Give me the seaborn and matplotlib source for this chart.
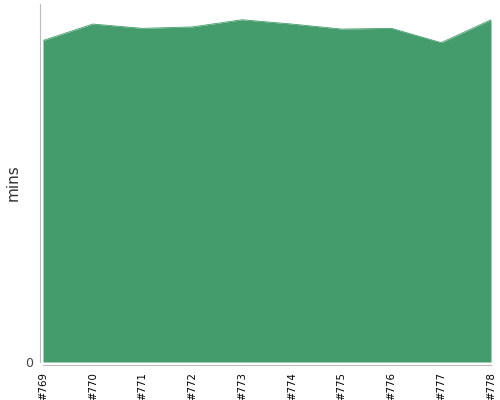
import pandas as pd
import matplotlib
matplotlib.use('Agg')
import matplotlib.pyplot as plt
import seaborn as sns

# Build numbers and duration (mins)
builds = ['#769', '#770', '#771', '#772', '#773', '#774', '#775', '#776', '#777', '#778']
mins = [44.9, 47.2, 46.6, 46.8, 47.8, 47.2, 46.5, 46.6, 44.6, 47.8]

df = pd.DataFrame({'build': builds, 'mins': mins})
df['pos'] = range(len(df))

sns.set_style('white')
fig = plt.figure(figsize=(5, 4), dpi=100)
ax = fig.add_axes([0.086, 0.095, 0.896, 0.895])

ax.fill_between(df['pos'], 0, df['mins'], color='#449c6c', linewidth=0)
sns.lineplot(data=df, x='pos', y='mins', ax=ax, color='#449c6c', linewidth=0.6)

# offset spines first: set_position resets tick styling
sns.despine(ax=ax, offset=2.5)
for side in ['left', 'bottom']:
    ax.spines[side].set_color('#bbbbbb')
    ax.spines[side].set_linewidth(0.8)

ax.set_xlim(0, len(df) - 1)
ax.set_ylim(0, 50)
ax.set_xticks(df['pos'])
ax.set_xticklabels(df['build'])
ax.set_yticks([0])
ax.set_yticklabels(['0'])
ax.tick_params(axis='x', labelrotation=90, labelsize=7.3, labelcolor='black')
ax.tick_params(axis='y', labelsize=9, labelcolor='#444444')
ax.tick_params(axis='both', length=3, width=0.8, color='#bbbbbb', pad=1.5)
ax.set_xlabel('')
ax.set_ylabel('mins', fontsize=11, color='#333333', labelpad=3)

fig.savefig('out.png', dpi=100)
